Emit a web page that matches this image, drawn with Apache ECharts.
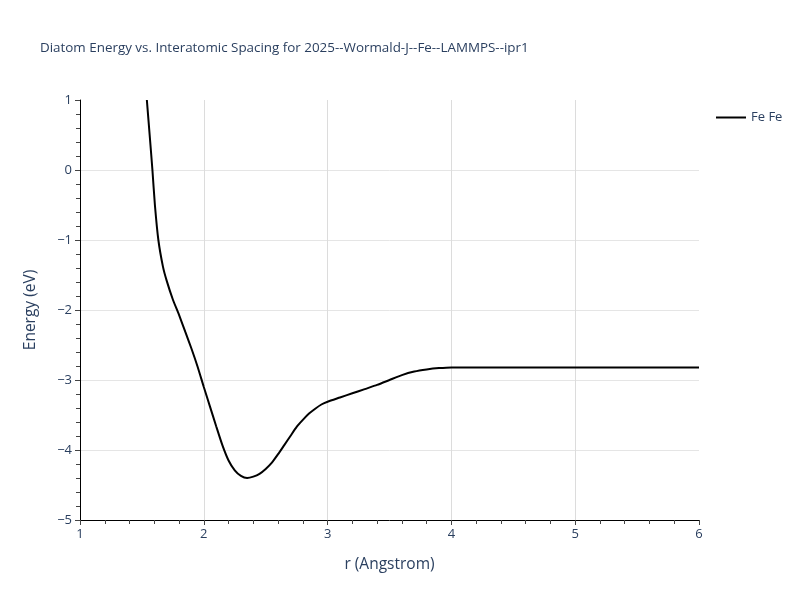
<!DOCTYPE html>
<html>
<head>
<meta charset="utf-8">
<script src="https://cdn.jsdelivr.net/npm/echarts@6/dist/echarts.min.js"></script>
<style>
  html, body { margin: 0; padding: 0; background: #fff; }
  #main { width: 800px; height: 600px; }
</style>
</head>
<body>
<div id="main"></div>
<script>
// 读图得到的数据 r (Angstrom) / Energy (eV)
var rValues = [1.54, 1.565, 1.585, 1.605, 1.633, 1.67, 1.70, 1.75, 1.80, 1.85, 1.90, 1.95,
               2.00, 2.05, 2.10, 2.15, 2.20, 2.25, 2.30, 2.35, 2.40, 2.45, 2.50, 2.55,
               2.60, 2.65, 2.70, 2.75, 2.80, 2.85, 2.90, 2.95, 3.00, 3.10, 3.20, 3.30,
               3.40, 3.50, 3.60, 3.70, 3.80, 3.90, 4.00, 4.50, 5.00, 5.50, 6.00];
var energyValues = [1.0, 0.45, 0.0, -0.5, -1.0, -1.38, -1.58, -1.85, -2.07, -2.31, -2.55, -2.81,
                    -3.10, -3.38, -3.66, -3.93, -4.15, -4.29, -4.37, -4.40, -4.38, -4.34, -4.27, -4.18,
                    -4.06, -3.93, -3.80, -3.67, -3.57, -3.48, -3.41, -3.35, -3.31, -3.25, -3.19, -3.13,
                    -3.07, -3.00, -2.93, -2.88, -2.85, -2.83, -2.82, -2.82, -2.82, -2.82, -2.82];
var seriesName = 'Fe Fe';
var titleText = 'Diatom Energy vs. Interatomic Spacing for 2025--Wormald-J--Fe--LAMMPS--ipr1';

function buildData(xs, ys) {
    var d = [];
    for (var i = 0; i < xs.length; i++) {
        d.push([xs[i], ys[i]]);
    }
    return d;
}

function minusSign(v) {
    return String(v).replace('-', '\u2212');
}

var myChart = echarts.init(document.getElementById('main'));
var font = 'Open Sans, Verdana, Arial, sans-serif';
var textColor = '#2a3f5f';

var option = {
    animation: false,
    backgroundColor: '#fff',
    title: {
        text: titleText,
        left: 35,
        top: 37,
        textStyle: { fontFamily: font, fontSize: 13.4, fontWeight: 'normal', color: textColor }
    },
    legend: {
        data: [seriesName],
        left: 711,
        top: 106,
        icon: 'rect',
        itemWidth: 30,
        itemHeight: 2,
        itemGap: 5,
        textStyle: { fontFamily: font, fontSize: 13, color: textColor }
    },
    grid: { left: 80, right: 101, top: 100, bottom: 80 },
    xAxis: {
        type: 'value',
        min: 1,
        max: 6,
        interval: 1,
        name: 'r (Angstrom)',
        nameLocation: 'middle',
        nameGap: 37,
        nameTextStyle: { fontFamily: font, fontSize: 15.5, color: textColor },
        axisLine: { onZero: false, lineStyle: { color: '#000', width: 1 } },
        axisTick: { show: true, length: 5, lineStyle: { color: '#444' } },
        minorTick: { show: true, splitNumber: 5, length: 4, lineStyle: { color: '#444' } },
        axisLabel: { fontFamily: font, fontSize: 13, color: textColor, margin: 8, formatter: minusSign },
        splitLine: { show: true, showMinLine: false, showMaxLine: false, lineStyle: { color: '#dcdcdc', width: 1 } }
    },
    yAxis: {
        type: 'value',
        min: -5,
        max: 1,
        interval: 1,
        name: 'Energy (eV)',
        nameLocation: 'middle',
        nameGap: 41,
        nameTextStyle: { fontFamily: font, fontSize: 15.5, color: textColor },
        axisLine: { show: true, onZero: false, lineStyle: { color: '#000', width: 1 } },
        axisTick: { show: true, length: 5, lineStyle: { color: '#444' } },
        minorTick: { show: true, splitNumber: 5, length: 4, lineStyle: { color: '#444' } },
        axisLabel: { fontFamily: font, fontSize: 13, color: textColor, margin: 8, formatter: minusSign },
        splitLine: {
            show: true, showMinLine: false, showMaxLine: false,
            lineStyle: { color: ['#e5e5e5', '#e5e5e5', '#e5e5e5', '#e5e5e5', '#e5e5e5', '#c8c8c8', '#e5e5e5'], width: 1 }
        }
    },
    series: [{
        name: seriesName,
        type: 'line',
        data: buildData(rValues, energyValues),
        showSymbol: false,
        smooth: 0.2,
        clip: true,
        lineStyle: { color: '#000', width: 2 },
        itemStyle: { color: '#000' }
    }]
};
myChart.setOption(option);
</script>
</body>
</html>
